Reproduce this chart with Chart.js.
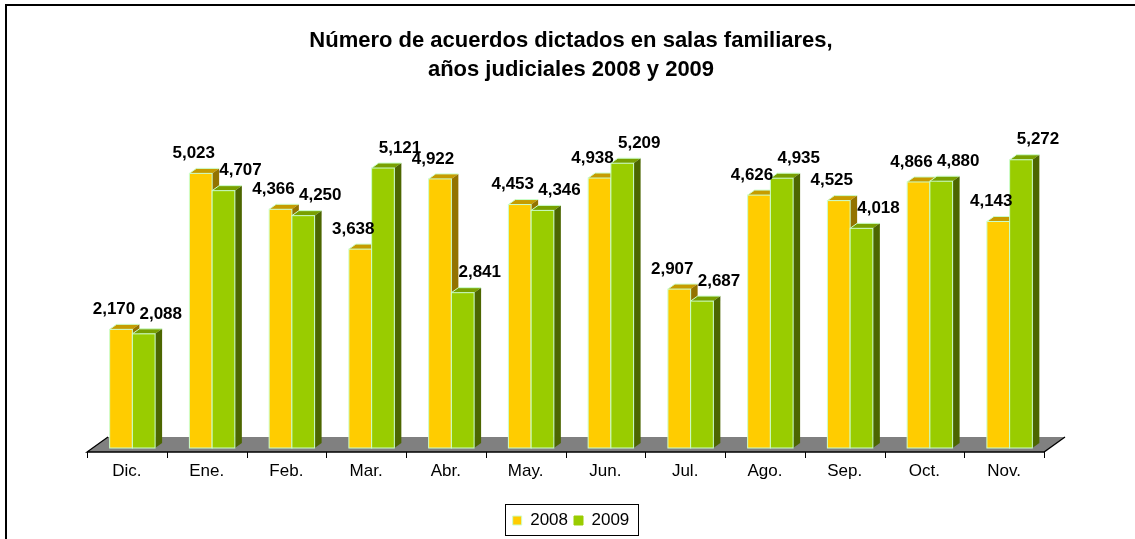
<!DOCTYPE html>
<html>
<head>
<meta charset="utf-8">
<script src="https://cdn.jsdelivr.net/npm/chart.js@4.4.1/dist/chart.umd.min.js"></script>
<style>
  html, body { margin: 0; padding: 0; background: #fff; }
  #wrap { width: 1135px; height: 539px; }
</style>
</head>
<body>
<div id="wrap"><canvas id="chart" width="1135" height="539"></canvas></div>
<script>
// values
const months     = ['Dic.', 'Ene.', 'Feb.', 'Mar.', 'Abr.', 'May.', 'Jun.', 'Jul.', 'Ago.', 'Sep.', 'Oct.', 'Nov.'];
const values2008 = [2170, 5023, 4366, 3638, 4922, 4453, 4938, 2907, 4626, 4525, 4866, 4143];
const values2009 = [2088, 4707, 4250, 5121, 2841, 4346, 5209, 2687, 4935, 4018, 4880, 5272];
const seriesNames = ['2008', '2009'];
const titleLines  = ['Número de acuerdos dictados en salas familiares,', 'años judiciales 2008 y 2009'];
const Y_MAX = 6000;

const FONT = "'Liberation Sans', Arial, Helvetica, sans-serif";

// 3D look
const BAR_DX  = 5.5;             // bars stand a little behind the front edge of the floor
const DEPTH_X = 7, DEPTH_Y = 5;  // bar depth
const FLOOR_DX = 21, FLOOR_DY = 15;
const faces = [
  { front: '#ffcc00', top: '#c69c00', side: '#937300' },
  { front: '#99cc00', top: '#78a000', side: '#4c6600' },
];
const labelShift = [-7, 17];     // data labels sit up-left / up-right like in Excel

function fmt(v) { return v.toLocaleString('en-US'); }

const bars3d = {
  id: 'bars3d',
  beforeDatasetsDraw(chart) {
    const { ctx, chartArea: a } = chart;
    const n = months.length;
    const fy = a.bottom + 4;

    ctx.save();
    // floor
    ctx.beginPath();
    ctx.moveTo(a.left, fy);
    ctx.lineTo(a.right, fy);
    ctx.lineTo(a.right + FLOOR_DX, fy - FLOOR_DY);
    ctx.lineTo(a.left + FLOOR_DX, fy - FLOOR_DY);
    ctx.closePath();
    ctx.fillStyle = '#808080';
    ctx.fill();
    ctx.beginPath();
    ctx.moveTo(a.left + FLOOR_DX, fy - FLOOR_DY);
    ctx.lineTo(a.left, fy);
    ctx.lineTo(a.right, fy);
    ctx.lineTo(a.right + FLOOR_DX, fy - FLOOR_DY);
    ctx.strokeStyle = '#000';
    ctx.lineWidth = 1.3;
    ctx.stroke();

    // category tick marks
    ctx.lineWidth = 1;
    ctx.beginPath();
    for (let i = 0; i <= n; i++) {
      const x = Math.round(a.left + i * (a.right - a.left) / n) + 0.5;
      ctx.moveTo(x, fy);
      ctx.lineTo(x, fy + 6);
    }
    ctx.stroke();

    // bars, category by category so the 2009 bar covers the 2008 side
    const metas = [0, 1].map(i => chart.getDatasetMeta(i));
    const tops = [];
    for (let j = 0; j < n; j++) {
      metas.forEach((meta, d) => {
        const { x, y, base, width } = meta.data[j].getProps(['x', 'y', 'base', 'width'], true);
        const x0 = x - width / 2 + BAR_DX, x1 = x + width / 2 + BAR_DX;
        const f = faces[d];

        ctx.fillStyle = f.front;
        ctx.fillRect(x0, y, x1 - x0, base - y);

        ctx.beginPath();
        ctx.moveTo(x0, y);
        ctx.lineTo(x0 + DEPTH_X, y - DEPTH_Y);
        ctx.lineTo(x1 + DEPTH_X, y - DEPTH_Y);
        ctx.lineTo(x1, y);
        ctx.closePath();
        ctx.fillStyle = f.top;
        ctx.fill();

        ctx.beginPath();
        ctx.moveTo(x1, y);
        ctx.lineTo(x1 + DEPTH_X, y - DEPTH_Y);
        ctx.lineTo(x1 + DEPTH_X, base - DEPTH_Y);
        ctx.lineTo(x1, base);
        ctx.closePath();
        ctx.fillStyle = f.side;
        ctx.fill();

        ctx.strokeStyle = '#ccffcc';
        ctx.lineWidth = 1;
        ctx.strokeRect(x0, y, x1 - x0, base - y);
        ctx.beginPath();
        ctx.moveTo(x0, y);
        ctx.lineTo(x0 + DEPTH_X, y - DEPTH_Y);
        ctx.lineTo(x1 + DEPTH_X, y - DEPTH_Y);
        ctx.stroke();

        tops.push({ x: (x0 + x1) / 2 + labelShift[d], y: y - 20, v: meta._dataset.data[j] });
      });
    }

    // data labels
    ctx.fillStyle = '#000';
    ctx.font = 'bold 17px ' + FONT;
    ctx.textAlign = 'center';
    ctx.textBaseline = 'middle';
    tops.forEach(t => ctx.fillText(fmt(t.v), t.x, t.y));
    ctx.restore();
    return false;
  },
  afterDraw(chart) {
    const { ctx } = chart;
    ctx.save();
    // chart frame (only left and top edges are inside the picture)
    ctx.strokeStyle = '#000';
    ctx.lineWidth = 2;
    ctx.strokeRect(6, 5, 2000, 2000);

    // legend frame
    const hb = chart.legend.legendHitBoxes;
    if (hb && hb.length) {
      const left = hb[0].left - 8;
      const right = hb[hb.length - 1].left + hb[hb.length - 1].width + 8;
      const top = hb[0].top - 8.5;
      const bottom = hb[0].top + hb[0].height + 5.5;
      ctx.lineWidth = 1;
      ctx.strokeRect(Math.round(left) + 0.5, Math.round(top) + 0.5, Math.round(right - left), Math.round(bottom - top));
    }
    ctx.restore();
  }
};

new Chart(document.getElementById('chart'), {
  type: 'bar',
  data: {
    labels: months,
    datasets: [
      { label: seriesNames[0], data: values2008, backgroundColor: faces[0].front, borderColor: '#ccffcc', borderWidth: 1 },
      { label: seriesNames[1], data: values2009, backgroundColor: faces[1].front, borderColor: faces[1].front, borderWidth: 1 },
    ]
  },
  options: {
    responsive: false,
    animation: false,
    events: [],
    layout: { padding: { left: 7, right: 0, top: 0, bottom: 0 } },
    datasets: { bar: { categoryPercentage: 0.57, barPercentage: 1 } },
    plugins: {
      title: {
        display: true,
        text: titleLines,
        color: '#000',
        font: { family: FONT, size: 22, weight: 'bold', lineHeight: 1.34 },
        padding: { top: 26, bottom: 35 }
      },
      legend: {
        position: 'bottom',
        labels: { color: '#000', font: { family: FONT, size: 17 }, boxWidth: 9, boxHeight: 9, padding: 6 }
      },
      tooltip: { enabled: false }
    },
    scales: {
      x: {
        grid: { display: false, drawTicks: false },
        border: { display: false },
        ticks: { color: '#000', font: { family: FONT, size: 17 }, padding: 13, maxRotation: 0, autoSkip: false },
        afterFit(scale) { scale.height = 58; }
      },
      y: {
        min: 0,
        max: Y_MAX,
        grid: { display: false },
        border: { display: false },
        ticks: { display: false },
        afterFit(scale) { scale.width = 80; }
      },
      y2: {
        position: 'right',
        min: 0,
        max: 1,
        grid: { display: false },
        border: { display: false },
        ticks: { display: false },
        afterFit(scale) { scale.width = 91; }
      }
    }
  },
  plugins: [bars3d]
});
</script>
</body>
</html>
